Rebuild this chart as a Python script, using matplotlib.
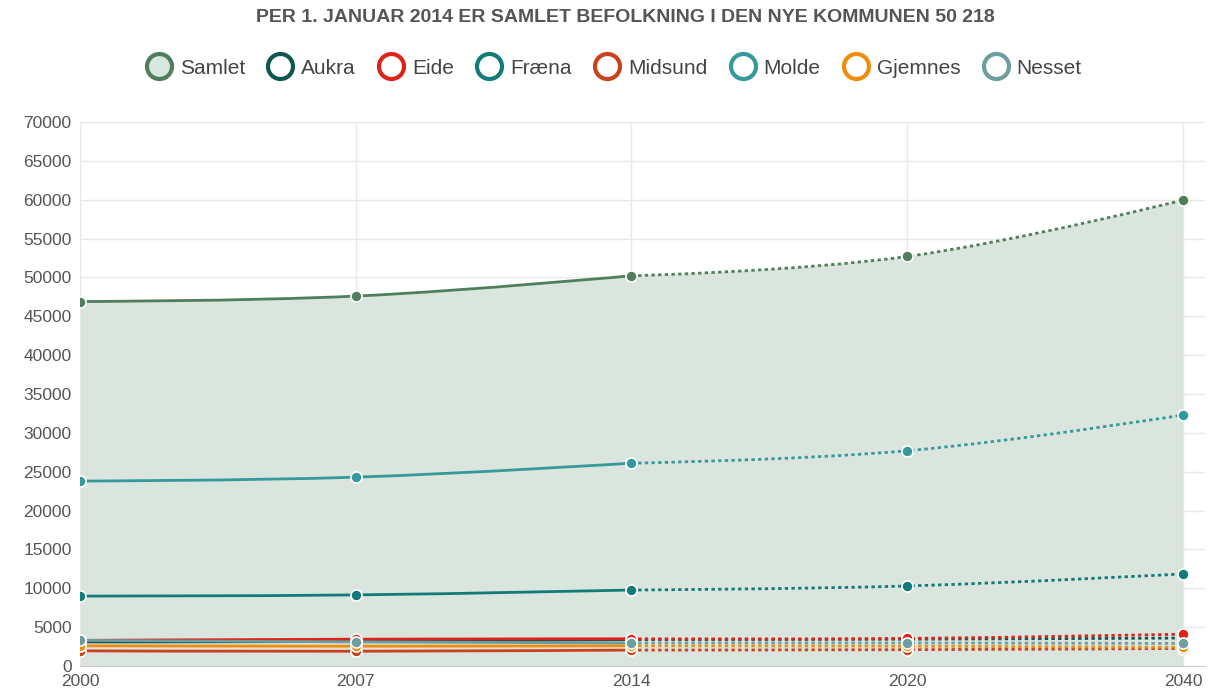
import matplotlib
matplotlib.use("Agg")
import matplotlib.pyplot as plt
from matplotlib.lines import Line2D
from matplotlib.path import Path
from matplotlib.patches import PathPatch
import numpy as np

# data
years = ["2000", "2007", "2014", "2020", "2040"]
samlet = [46900, 47600, 50218, 52700, 59950]
aukra = [3100, 3150, 3400, 3450, 3600]
eide = [3300, 3450, 3500, 3550, 4100]
fraena = [9000, 9150, 9780, 10300, 11850]
midsund = [1950, 1900, 2050, 2100, 2250]
molde = [23800, 24300, 26100, 27700, 32300]
gjemnes = [2600, 2550, 2600, 2550, 2400]
nesset = [3300, 3100, 2970, 2970, 2900]

names = ["Samlet", "Aukra", "Eide", "Fræna", "Midsund", "Molde", "Gjemnes", "Nesset"]
colors = ["#4f7f5a", "#0e5552", "#e0221c", "#127a79", "#c9411d", "#34999a", "#f08b0b", "#6c9e9f"]
series = [samlet, aukra, eide, fraena, midsund, molde, gjemnes, nesset]

plt.rcParams['font.family'] = ['Liberation Sans', 'DejaVu Sans']


def spline_path(xs, ys, smoothing=1.5):
    # bezier spline through the points, same idea as highcharts' "spline"
    n = len(xs)
    verts = [(xs[0], ys[0])]
    codes = [Path.MOVETO]
    left = [None] * n
    right = [None] * n
    for i in range(1, n - 1):
        d = smoothing + 1
        lx = (smoothing * xs[i] + xs[i-1]) / d
        ly = (smoothing * ys[i] + ys[i-1]) / d
        rx = (smoothing * xs[i] + xs[i+1]) / d
        ry = (smoothing * ys[i] + ys[i+1]) / d
        if rx != lx:
            corr = (ry - ly) * (rx - xs[i]) / (rx - lx) + ys[i] - ry
            ly += corr
            ry += corr
        left[i] = (lx, ly)
        right[i] = (rx, ry)
    for i in range(1, n):
        c1 = right[i-1] if right[i-1] is not None else (xs[i-1], ys[i-1])
        c2 = left[i] if left[i] is not None else (xs[i], ys[i])
        verts += [c1, c2, (xs[i], ys[i])]
        codes += [Path.CURVE4] * 3
    return verts, codes


fig = plt.figure(figsize=(12.17, 6.94), dpi=100)
ax = fig.add_axes([80/1217, 1-666/694, 1125/1217, 544/694])

x = np.arange(len(years))
solid = 3  # first three points are registered, the rest projected

# area for total (follows the curved outline)
v1, c1 = spline_path(x[:solid], samlet[:solid])
v2, c2 = spline_path(x[solid-1:], samlet[solid-1:])
verts = [(0, 0)] + v1 + v2[1:] + [(x[-1], 0), (0, 0)]
codes = [Path.MOVETO, Path.LINETO] + c1[1:] + c2[1:] + [Path.LINETO, Path.CLOSEPOLY]
ax.add_patch(PathPatch(Path(verts, codes), fc="#dae5dd", ec="none", zorder=1))

for name, col, vals in zip(names, colors, series):
    v, c = spline_path(x[:solid], vals[:solid])
    ax.add_patch(PathPatch(Path(v, c), fc="none", ec=col, lw=2, zorder=3))
    v, c = spline_path(x[solid-1:], vals[solid-1:])
    ax.add_patch(PathPatch(Path(v, c), fc="none", ec=col, lw=2, ls=(0, (1.2, 1.2)), zorder=3))
    ax.plot(x, vals, ls="none", marker="o", ms=8, mfc=col, mec="white", mew=1.2, zorder=4)

ax.set_xlim(0, 4.08)
ax.set_ylim(0, 70000)
ax.set_xticks(x)
ax.set_xticklabels(years)
ax.set_yticks(np.arange(0, 70001, 5000))
ax.tick_params(axis="both", labelsize=12.5, colors="#555555", length=0, pad=6)
ax.grid(True, color="#e8e8e8", lw=1, zorder=0)
ax.set_axisbelow(True)
for s in ["top", "right"]:
    ax.spines[s].set_visible(False)
ax.spines["left"].set_color("#e8e8e8")
ax.spines["bottom"].set_color("#cccccc")

fig.text(625/1217, 1-18/694, "PER 1. JANUAR 2014 ER SAMLET BEFOLKNING I DEN NYE KOMMUNEN 50 218",
         ha="center", va="center", fontsize=14, fontweight="bold", color="#555555")

handles = []
for i, (name, col) in enumerate(zip(names, colors)):
    fc = "#dae5dd" if i == 0 else "white"
    handles.append(Line2D([0], [0], ls="none", marker="o", ms=18, mfc=fc, mec=col, mew=3, label=name))
leg = fig.legend(handles=handles, loc="center", bbox_to_anchor=(614/1217, 1-68/694), ncol=8,
                 frameon=False, fontsize=15, handletextpad=0.4, columnspacing=1.1, handlelength=1.2)
for t in leg.get_texts():
    t.set_color("#444444")

fig.savefig("out.png", dpi=100)
